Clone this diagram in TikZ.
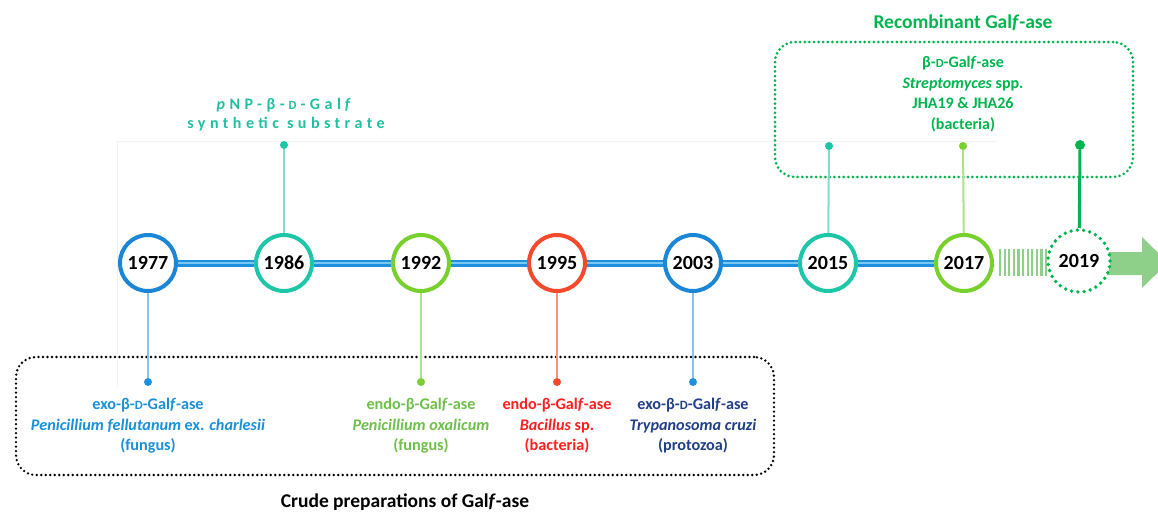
\documentclass[tikz,border=0pt]{standalone}
\usepackage{fontspec}
\setmainfont{Carlito}
\usetikzlibrary{calc}
\definecolor{cblue}{HTML}{1C86D6}
\definecolor{cteal}{HTML}{1CC6A6}
\definecolor{clime}{HTML}{78D02C}
\definecolor{cred}{HTML}{F5492B}
\definecolor{dgreen}{HTML}{00B44E}
\definecolor{tblue}{HTML}{1A90D8}
\definecolor{tteal}{HTML}{1EC0A0}
\definecolor{tgreen}{HTML}{6EBF4B}
\definecolor{tred}{HTML}{FF1F1F}
\definecolor{tnavy}{HTML}{203F86}
\definecolor{tlblue}{HTML}{1E90E0}
\definecolor{tllight}{HTML}{7CC6F2}
\definecolor{sblue}{HTML}{86C3EA}
\definecolor{steal}{HTML}{80DCCB}
\definecolor{sgreen}{HTML}{ADE285}
\definecolor{sred}{HTML}{F5957F}
\definecolor{agreen}{HTML}{8ED08A}
\newcommand\Galf{Gal\textit{f}}
\newcommand\smallD{\scalebox{0.78}{D}}
\begin{document}
\begin{tikzpicture}[x=1pt,y=-1pt,
  yearc/.style={circle, draw, line width=4pt, fill=white, minimum size=56pt, inner sep=0pt, font=\fontsize{20}{20}\selectfont\bfseries},
  dotn/.style={circle, inner sep=0pt, minimum size=8pt},
  lbl/.style={align=center, font=\fontsize{16.2}{20.5}\selectfont\bfseries},
  stem/.style={line width=2pt},
  ttl/.style={font=\fontsize{19.5}{22}\selectfont\bfseries}]
\useasboundingbox (0,0) rectangle (1158,515);
\clip (0,0) rectangle (1158,515);
% faint frame
\draw[gray!10, line width=0.8pt] (117,387) -- (117,141) -- (997,141);
% boxes
\node[draw=black, line width=2.6pt, dash pattern=on 0pt off 4.5pt, line cap=round, rounded corners=20pt, minimum width=758pt, minimum height=118pt, inner sep=0pt] (crudebox) at (395,416) {};
\node[draw=dgreen, line width=3pt, dash pattern=on 0pt off 4.6pt, line cap=round, rounded corners=20pt, minimum width=358pt, minimum height=135pt, inner sep=0pt] (recbox) at (954,109.5) {};
% arrow and stripes
\fill[agreen] (1080,252) -- (1142,252) -- (1142,237) -- (1168,262.5) -- (1142,288) -- (1142,275) -- (1080,275) -- cycle;
\foreach \i in {0,...,10} {\fill[agreen] ({999+4.6*\i},249) rectangle ({1001.2+4.6*\i},276);}
% year circles
\node[yearc, draw=cblue] (y1977) at (148,263) {1977};
\node[yearc, draw=cteal] (y1986) at (284,263) {1986};
\node[yearc, draw=clime] (y1992) at (421,263) {1992};
\node[yearc, draw=cred] (y1995) at (557,263) {1995};
\node[yearc, draw=cblue] (y2003) at (693,263) {2003};
\node[yearc, draw=cteal] (y2015) at (828,263) {2015};
\node[yearc, draw=clime] (y2017) at (964,263) {2017};
\node[yearc, draw=dgreen, line width=3.8pt, dash pattern=on 0pt off 6.3pt, line cap=round, minimum size=62pt] (y2019) at (1079,261) {2019};
% timeline
\foreach \a/\b in {y1977/y1986,y1986/y1992,y1992/y1995,y1995/y2003,y2003/y2015,y2015/y2017} {
  \draw[tlblue, line width=7pt] (\a) -- (\b);
  \draw[tllight, line width=1.6pt] (\a) -- (\b);
}
% dots
\node[dotn, fill=tlblue] (d1977) at (148,382) {};
\node[dotn, fill=cteal] (d1986) at (284,145) {};
\node[dotn, fill=clime] (d1992) at (421,382) {};
\node[dotn, fill=cred] (d1995) at (557,382) {};
\node[dotn, fill=tlblue] (d2003) at (693,382) {};
\node[dotn, fill=cteal] (d2015) at (829,146) {};
\node[dotn, fill=clime] (d2017) at (963,146) {};
\node[dotn, fill=dgreen, minimum size=10pt] (d2019) at (1080,145) {};
% stems
\draw[stem, sblue] (y1977) -- (d1977);
\draw[stem, steal] (y1986) -- (d1986);
\draw[stem, sgreen] (y1992) -- (d1992);
\draw[stem, sred] (y1995) -- (d1995);
\draw[stem, sblue] (y2003) -- (d2003);
\draw[stem, steal] (y2015) -- (d2015);
\draw[stem, sgreen] (y2017) -- (d2017);
\draw[line width=3pt, dgreen] (y2019) -- (d2019);
% labels
\node[lbl, text=tblue] (t1977) at (148,426) {exo-β-\smallD-\Galf-ase\\\textit{Penicillium fellutanum} ex. \textit{charlesii}\\(fungus)};
\node[lbl, text=tgreen] (t1992) at (421,426) {endo-β-\Galf-ase\\\textit{Penicillium oxalicum}\\(fungus)};
\node[lbl, text=tred] (t1995) at (557,426) {endo-β-\Galf-ase\\\textit{Bacillus} sp.\\(bacteria)};
\node[lbl, text=tnavy] (t2003) at (693,426) {exo-β-\smallD-\Galf-ase\\\textit{Trypanosoma cruzi}\\(protozoa)};
\node[lbl, text=tteal, font=\fontsize{16}{19.5}\selectfont\bfseries\addfontfeatures{LetterSpace=28}] (t1986) at (286,114.5) {\textit{p}NP-β-\kern4pt\smallD\kern4pt-Gal\kern4pt\textit{f}\\synthetic substrate};
\node[lbl, text=dgreen, font=\fontsize{16}{20.7}\selectfont\bfseries] (t2017) at (963,94) {β-\smallD-\Galf-ase\\\textit{Streptomyces} spp.\\JHA19 \& JHA26\\(bacteria)};
\node[ttl, text=dgreen] (trec) at (963,23) {Recombinant \Galf-ase};
\node[ttl, text=black] (tcrude) at (405,502) {Crude preparations of \Galf-ase};
\end{tikzpicture}
\end{document}
